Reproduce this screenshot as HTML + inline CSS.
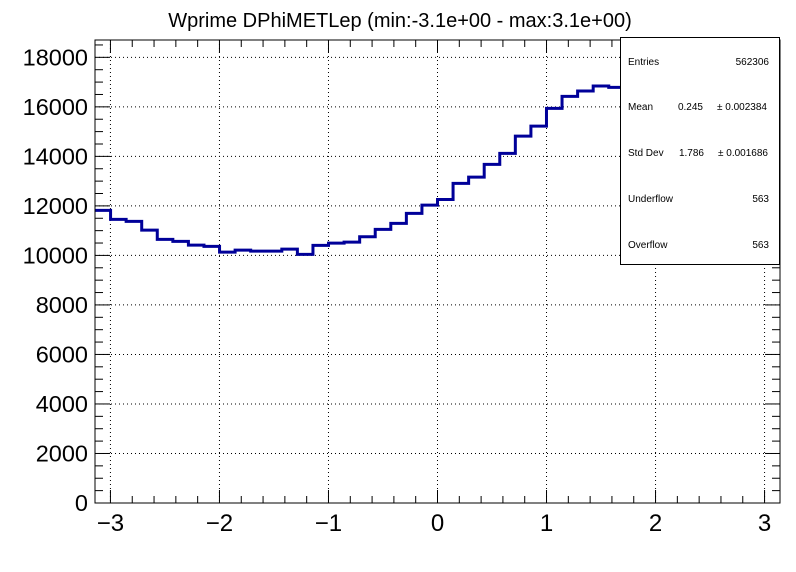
<!DOCTYPE html>
<html><head><meta charset="utf-8">
<style>
html,body{margin:0;padding:0;background:#fff;}
svg{display:block;font-family:"Liberation Sans",Arial,sans-serif;}
</style></head>
<body>
<svg id="chart" width="796" height="572" viewBox="0 0 796 572">
  <rect x="0" y="0" width="796" height="572" fill="#fff"/>
  <text x="400" y="27" text-anchor="middle" font-size="20" fill="#000">Wprime DPhiMETLep (min:-3.1e+00 - max:3.1e+00)</text>
  <g id="grid"></g>
  <g id="hist"></g>
  <g id="axes"></g>
  <rect x="95" y="40" width="685" height="463" fill="none" stroke="#000" stroke-width="1"/>
  <g>
    <rect x="620.5" y="37.5" width="159" height="227" fill="#fff" stroke="#000" stroke-width="1"/>
    <g font-size="10" fill="#000">
      <text x="628" y="65">Entries</text>
      <text x="769" y="65" text-anchor="end">562306</text>
      <text x="628" y="110">Mean</text>
      <text x="703" y="110" text-anchor="end">0.245</text>
      <text x="767" y="110" text-anchor="end">± 0.002384</text>
      <text x="628" y="156">Std Dev</text>
      <text x="704" y="156" text-anchor="end">1.786</text>
      <text x="768" y="156" text-anchor="end">± 0.001686</text>
      <text x="628" y="202">Underflow</text>
      <text x="769" y="202" text-anchor="end">563</text>
      <text x="628" y="248">Overflow</text>
      <text x="769" y="248" text-anchor="end">563</text>
    </g>
  </g>
</svg>
<script>
const binCounts = [11818,11455,11374,11022,10646,10566,10416,10364,10133,10214,10174,10174,10255,10040,10404,10497,10537,10752,11051,11293,11697,12032,12260,12909,13164,13677,14121,14820,15224,15939,16424,16638,16840,16787,16750,16600,16400,16100,15600,15000,14300,13500,12700,12000];
const xTickValues = [-3,-2,-1,0,1,2,3];
const xTickLabels = ["\u22123","\u22122","\u22121","0","1","2","3"];
const yTickValues = [0,2000,4000,6000,8000,10000,12000,14000,16000,18000];
const yTickLabels = ["0","2000","4000","6000","8000","10000","12000","14000","16000","18000"];

const X0=95, X1=780, Y0=503, Y1=40;
const xMin=-Math.PI, xMax=Math.PI, yMin=0, yMax=18700;
function xs(v){return X0+(v-xMin)/(xMax-xMin)*(X1-X0);}
function ys(v){return Y0-(v-yMin)/(yMax-yMin)*(Y0-Y1);}
const NS="http://www.w3.org/2000/svg";
function mk(tag,attrs,parent){const e=document.createElementNS(NS,tag);for(const k in attrs)e.setAttribute(k,attrs[k]);parent.appendChild(e);return e;}
const grid=document.getElementById('grid'), axes=document.getElementById('axes'), hist=document.getElementById('hist');

xTickValues.forEach(v=>{const x=xs(v);
  const l=mk('line',{x1:x,x2:x,y1:Y1,y2:Y0,stroke:'#000','stroke-width':1,'stroke-dasharray':'1,3'},grid);
  
  
});
yTickValues.forEach(v=>{const y=ys(v);
  const l=mk('line',{x1:X0,x2:X1,y1:y,y2:y,stroke:'#000','stroke-width':1,'stroke-dasharray':'1,3'},grid);
  
  
});

const n=binCounts.length, w=(xMax-xMin)/n;
let d='M'+xs(xMin)+','+ys(binCounts[0]);
for(let i=0;i<n;i++){
  const y=ys(binCounts[i]);
  if(i>0)d+=' L'+xs(xMin+i*w)+','+y;
  d+=' L'+xs(xMin+(i+1)*w)+','+y;
}
const p=mk('path',{d:d,fill:'none',stroke:'#000099','stroke-width':3},hist);



for(let v=-3.2;v<=3.2001;v+=0.2){
  const vv=Math.round(v*10)/10; if(vv<xMin||vv>xMax)continue;
  const major=Math.abs(vv-Math.round(vv))<1e-6;
  const x=xs(vv), L=major?13:7;
  const t=mk('line',{x1:x,x2:x,y1:Y0,y2:Y0-L,stroke:'#000'},axes);
  
  
  const t2=mk('line',{x1:x,x2:x,y1:Y1,y2:Y1+L,stroke:'#000'},axes);
  
  
}
xTickValues.forEach((v,i)=>{
  const t=mk('text',{x:xs(v),y:531,'text-anchor':'middle','font-size':24,fill:'#000'},axes);
  t.textContent=xTickLabels[i];
  
  
});
for(let v=0;v<=yMax;v+=500){
  const major=v%2000===0, y=ys(v), L=major?15:8;
  const t=mk('line',{x1:X0,x2:X0+L,y1:y,y2:y,stroke:'#000'},axes);
  
  
  const t2=mk('line',{x1:X1,x2:X1-L,y1:y,y2:y,stroke:'#000'},axes);
  
  
}
yTickValues.forEach((v,i)=>{
  const t=mk('text',{x:88,y:ys(v)+8,'text-anchor':'end','font-size':23.5,fill:'#000'},axes);
  t.textContent=yTickLabels[i];
  
  
});
</script>
</body></html>
